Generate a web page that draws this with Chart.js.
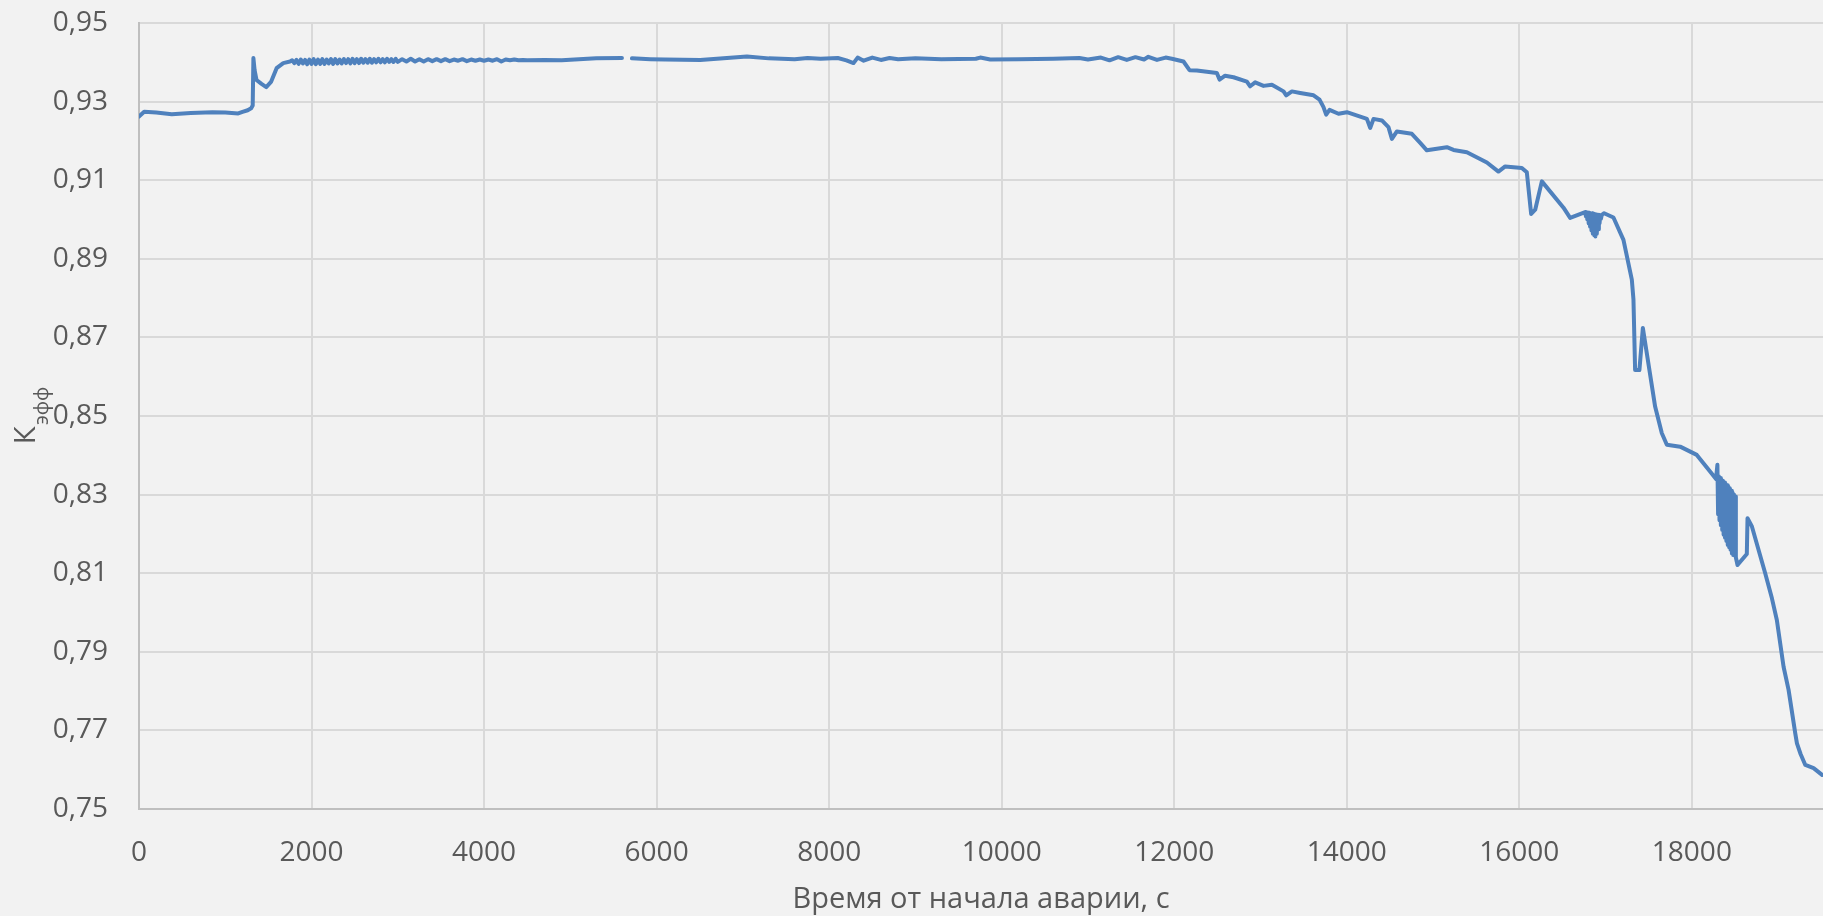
<!DOCTYPE html>
<html lang="ru">
<head>
<meta charset="utf-8">
<title>Кэфф</title>
<script src="https://cdn.jsdelivr.net/npm/chart.js@4.4.1/dist/chart.umd.min.js"></script>
<style>
    html, body { margin: 0; padding: 0; background: #f2f2f2; overflow: hidden; }
    #keffChart { display: block; }
</style>
</head>
<body>
<canvas id="keffChart" width="1823" height="916"></canvas>
<script>

// ==========================================
// Data (time, s  ->  Keff)
// ==========================================

const timeSec = [
    // before 1300 s
    0, 60, 200, 380, 600, 850, 1000, 1150, 1200, 1260, 1300, 1318,
    // jump
    1326, 1340, 1362, 1420, 1475, 1530, 1595, 1672, 1750,
    // noisy plateau
    1775, 1800, 1825, 1850, 1875, 1900, 1925, 1950, 1975, 2000,
    2025, 2050, 2075, 2100, 2125, 2150, 2175, 2200, 2225, 2250,
    2275, 2300, 2325, 2350, 2375, 2400, 2425, 2450, 2475, 2500,
    2525, 2550, 2575, 2600, 2625, 2650, 2675, 2700, 2725, 2750,
    2775, 2800, 2825, 2850, 2875, 2900, 2925, 2950, 2975, 3000,
    3050, 3100, 3150, 3200, 3250, 3300, 3350, 3400, 3450, 3500,
    3550, 3600, 3650, 3700, 3750, 3800, 3850, 3900, 3950, 4000,
    4050, 4100, 4150, 4200, 4250, 4300, 4350, 4400, 4450, 4500,
    4700, 4900, 5100, 5300, 5598, 5650,
    // plateau after the gap
    5714, 5926, 6100, 6505, 7047, 7300, 7600, 7750, 7900, 8100, 8200, 8282,
    8330, 8400, 8500, 8600, 8700, 8800, 9000, 9300, 9700, 9751, 9867, 10200,
    10600, 10900, 11000, 11150, 11250, 11350, 11450, 11550, 11650, 11700, 11800, 11900,
    // decline
    11972, 12107, 12177, 12262, 12494, 12525, 12590, 12687, 12842, 12880, 12938, 13035,
    13132, 13267, 13298, 13364, 13460, 13615, 13684, 13730, 13761, 13800, 13904, 14001,
    14233, 14271, 14310, 14407, 14483, 14523, 14581, 14754, 14851, 14928, 15160, 15237,
    15392, 15624, 15758, 15836, 16029, 16087, 16137, 16184, 16261, 16512, 16589,
    // oscillations near 16850 s
    16763, 16772, 16780, 16788, 16796, 16804, 16812, 16820, 16828, 16836,
    16844, 16852, 16860, 16868, 16876, 16882, 16890, 16898, 16906, 16914,
    16922, 16930, 16938, 16946, 16956,
    // steep drop
    16983, 17091, 17207, 17304, 17323, 17342, 17392, 17432, 17574, 17652, 17710, 17864, 18057, 18211, 18280,
    // oscillations near 18400 s
    18296, 18304, 18312, 18320, 18328, 18336, 18344, 18352, 18360, 18368,
    18376, 18384, 18392, 18400, 18408, 18416, 18424, 18432, 18440, 18448,
    18456, 18464, 18472, 18480, 18488, 18496, 18502, 18510,
    // tail
    18529, 18637, 18645, 18696, 18850, 18928, 18985, 19063, 19121, 19198, 19218, 19260, 19315, 19411, 19509
];

const keff = [
    0.9262, 0.9274, 0.9272, 0.9268, 0.9271, 0.9273, 0.9272, 0.9270, 0.9274, 0.9278, 0.9283, 0.9290,
    0.9411, 0.9380, 0.9355, 0.9345, 0.9337, 0.9350, 0.9385, 0.9398, 0.9402,
    0.9405, 0.9398, 0.9406, 0.9396, 0.9407, 0.9397, 0.9406, 0.9395, 0.9407, 0.9396,
    0.9408, 0.9395, 0.9407, 0.9396, 0.9408, 0.9396, 0.9407, 0.9397, 0.9408, 0.9396,
    0.9408, 0.9397, 0.9407, 0.9397, 0.9408, 0.9398, 0.9408, 0.9397, 0.9409, 0.9398,
    0.9408, 0.9398, 0.9409, 0.9399, 0.9408, 0.9399, 0.9409, 0.9399, 0.9408, 0.9400,
    0.9409, 0.9400, 0.9408, 0.9400, 0.9409, 0.9401, 0.9408, 0.9401, 0.9409, 0.9401,
    0.9408, 0.9402, 0.9409, 0.9402, 0.9408, 0.9402, 0.9408, 0.9403, 0.9408, 0.9403,
    0.9408, 0.9403, 0.9407, 0.9404, 0.9408, 0.9403, 0.9407, 0.9404, 0.9407, 0.9404,
    0.9407, 0.9404, 0.9408, 0.9402, 0.9407, 0.9405, 0.9407, 0.9405, 0.9406, 0.9405,
    0.9406, 0.9405, 0.9408, 0.9410, 0.9411, null,
    0.9410, 0.9408, 0.9407, 0.9406, 0.9415, 0.9410, 0.9408, 0.9411, 0.9409, 0.9411, 0.9405, 0.9398,
    0.9412, 0.9404, 0.9412, 0.9406, 0.9411, 0.9408, 0.9410, 0.9408, 0.9409, 0.9412, 0.9407, 0.9408,
    0.9409, 0.9411, 0.9407, 0.9412, 0.9405, 0.9413, 0.9406, 0.9413, 0.9407, 0.9414, 0.9406, 0.9412,
    0.9409, 0.9402, 0.9380, 0.9379, 0.9373, 0.9356, 0.9366, 0.9362, 0.9351, 0.9339, 0.9349, 0.9340,
    0.9343, 0.9326, 0.9316, 0.9326, 0.9322, 0.9316, 0.9305, 0.9286, 0.9267, 0.9279, 0.9269, 0.9273,
    0.9256, 0.9233, 0.9256, 0.9252, 0.9235, 0.9205, 0.9224, 0.9218, 0.9195, 0.9176, 0.9184, 0.9177,
    0.9171, 0.9145, 0.9122, 0.9135, 0.9131, 0.9120, 0.9014, 0.9025, 0.9097, 0.9030, 0.9004,
    0.9019, 0.9008, 0.9018, 0.9000, 0.9018, 0.8990, 0.9017, 0.8982, 0.9016, 0.8972,
    0.9016, 0.8964, 0.9015, 0.8960, 0.9014, 0.8957, 0.9013, 0.8964, 0.9012, 0.8975,
    0.9012, 0.8990, 0.9011, 0.9002, 0.9012,
    0.9016, 0.9005, 0.8948, 0.8847, 0.8796, 0.8617, 0.8617, 0.8724, 0.8524, 0.8456, 0.8427, 0.8422, 0.8401, 0.8359, 0.8340,
    0.8376, 0.8250, 0.8347, 0.8235, 0.8342, 0.8222, 0.8338, 0.8210, 0.8335, 0.8198,
    0.8331, 0.8190, 0.8327, 0.8182, 0.8324, 0.8172, 0.8320, 0.8166, 0.8316, 0.8160,
    0.8310, 0.8150, 0.8305, 0.8146, 0.8300, 0.8145, 0.8295, 0.8140,
    0.8121, 0.8149, 0.8240, 0.8219, 0.8100, 0.8036, 0.7981, 0.7862, 0.7803, 0.7693, 0.7667, 0.7640, 0.7612, 0.7604, 0.7587
];

const xTickValues = [0, 2000, 4000, 6000, 8000, 10000, 12000, 14000, 16000, 18000];
const yTickValues = [0.75, 0.77, 0.79, 0.81, 0.83, 0.85, 0.87, 0.89, 0.91, 0.93, 0.95];

const xAxisMax = 19520;

const xAxisTitle = "Время от начала аварии, с";
const yAxisTitleMain = "К";
const yAxisTitleSub = "эфф";


// ==========================================
// Styles
// ==========================================

const FONT = "'Open Sans', 'Noto Sans', sans-serif";
const TEXT_COLOR = "#595959";
const GRID_COLOR = "#d9d9d9";
const AXIS_COLOR = "#bfbfbf";
const LINE_COLOR = "#4f81bd";


document.addEventListener("DOMContentLoaded", () => {

    loadKeffChart();

});


// ==========================================
// Y axis title with subscript
// ==========================================

const yTitlePlugin = {

    id: "yTitleSub",

    afterDraw(chart) {

        const ctx = chart.ctx;
        const area = chart.chartArea;

        const mainFont = "30px " + FONT;
        const subFont = "20px " + FONT;

        ctx.save();

        ctx.font = mainFont;
        const wMain = ctx.measureText(yAxisTitleMain).width;
        ctx.font = subFont;
        const wSub = ctx.measureText(yAxisTitleSub).width;

        ctx.translate(35, (area.top + area.bottom) / 2);
        ctx.rotate(-Math.PI / 2);

        ctx.fillStyle = TEXT_COLOR;
        ctx.textBaseline = "alphabetic";
        ctx.textAlign = "left";

        const start = -(wMain + wSub) / 2;

        ctx.font = mainFont;
        ctx.fillText(yAxisTitleMain, start, 0);

        ctx.font = subFont;
        ctx.fillText(yAxisTitleSub, start + wMain + 1, 13);

        ctx.restore();
    }
};


// ==========================================
// Chart
// ==========================================

function loadKeffChart(){

    const ctx = document.getElementById("keffChart");

    const points = timeSec.map((t, i) => ({ x: t, y: keff[i] }));

    new Chart(ctx, {

        type: "scatter",

        data: {

            datasets: [{

                label: "Кэфф",

                data: points,

                showLine: true,

                spanGaps: false,

                borderColor: LINE_COLOR,

                borderWidth: 4,

                borderJoinStyle: "round",

                borderCapStyle: "round",

                pointRadius: 0,

                tension: 0

            }]

        },

        options: {

            responsive: false,

            animation: false,

            layout: {
                padding: { top: 23, right: 0, bottom: 0, left: 0 }
            },

            plugins: {
                legend: { display: false },
                tooltip: { enabled: false }
            },

            scales: {

                x: {
                    type: "linear",
                    min: 0,
                    max: xAxisMax,
                    afterBuildTicks: scale => {
                        scale.ticks = xTickValues.map(v => ({ value: v }));
                    },
                    afterFit: scale => {
                        scale.height = 107;
                        scale.paddingLeft = 0;
                        scale.paddingRight = 0;
                    },
                    ticks: {
                        color: TEXT_COLOR,
                        font: { family: FONT, size: 28 },
                        padding: 27,
                        maxRotation: 0,
                        autoSkip: false,
                        callback: v => String(v)
                    },
                    grid: {
                        color: GRID_COLOR,
                        lineWidth: 2,
                        drawTicks: false
                    },
                    border: {
                        display: true,
                        color: AXIS_COLOR,
                        width: 2
                    },
                    title: {
                        display: true,
                        text: xAxisTitle,
                        color: TEXT_COLOR,
                        font: { family: FONT, size: 29 },
                        padding: { top: 0, bottom: -1 }
                    }
                },

                y: {
                    min: 0.75,
                    max: 0.95,
                    afterBuildTicks: scale => {
                        scale.ticks = yTickValues.map(v => ({ value: v }));
                    },
                    afterFit: scale => {
                        scale.width = 139;
                        scale.paddingTop = 0;
                        scale.paddingBottom = 0;
                    },
                    ticks: {
                        color: TEXT_COLOR,
                        font: { family: FONT, size: 28 },
                        padding: 31,
                        autoSkip: false,
                        callback: v => v.toFixed(2).replace(".", ",")
                    },
                    grid: {
                        color: GRID_COLOR,
                        lineWidth: 2,
                        drawTicks: false
                    },
                    border: {
                        display: true,
                        color: AXIS_COLOR,
                        width: 2
                    }
                }

            }

        },

        plugins: [yTitlePlugin]

    });

}

</script>
</body>
</html>
